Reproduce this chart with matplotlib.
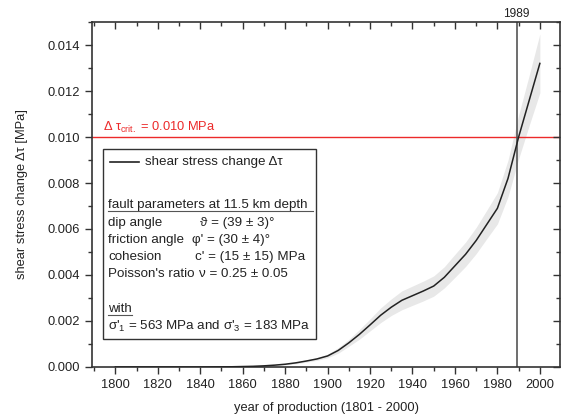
import matplotlib
matplotlib.use("Agg")
import matplotlib.pyplot as plt
from matplotlib.ticker import MultipleLocator, FormatStrFormatter
from matplotlib.patches import Rectangle
from matplotlib.lines import Line2D

plt.rcParams['font.family'] = ['Liberation Sans', 'DejaVu Sans']
plt.rcParams['mathtext.fontset'] = 'custom'
plt.rcParams['mathtext.rm'] = 'Liberation Sans'
plt.rcParams['mathtext.it'] = 'Liberation Sans'
plt.rcParams['mathtext.default'] = 'regular'

# Shear stress change from production history (MPa), every 5 years
years = [1800, 1805, 1810, 1815, 1820, 1825, 1830, 1835, 1840, 1845, 1850,
         1855, 1860, 1865, 1870, 1875, 1880, 1885, 1890, 1895, 1900,
         1905, 1910, 1915, 1920, 1925, 1930, 1935, 1940, 1945, 1950,
         1955, 1960, 1965, 1970, 1975, 1980, 1985, 1990, 1995, 2000]
tau = [0.0, 0.0, 0.0, 0.0, 0.0, 0.0, 0.0, 0.0, 0.0, 0.000003, 0.000006,
       0.00001, 0.00002, 0.00003, 0.00005, 0.00008, 0.00012, 0.00018, 0.00026, 0.00035, 0.00048,
       0.00072, 0.00105, 0.00142, 0.00183, 0.00225, 0.0026, 0.0029, 0.0031, 0.0033, 0.00352,
       0.0039, 0.0044, 0.0049, 0.0055, 0.0062, 0.0069, 0.0082, 0.0100, 0.0116, 0.0132]
tau_upper = [0.0, 0.0, 0.0, 0.0, 0.0, 0.0, 0.0, 0.0, 0.0, 0.000004, 0.000007,
             0.000012, 0.000024, 0.000036, 0.00006, 0.0001, 0.00015, 0.00022, 0.00031, 0.00041, 0.00056,
             0.00084, 0.0012, 0.00163, 0.00209, 0.00257, 0.00296, 0.00331, 0.00352, 0.00373, 0.00396,
             0.00436, 0.0049, 0.00543, 0.00607, 0.00682, 0.00758, 0.00899, 0.01095, 0.01269, 0.01448]
tau_lower = [0.0, 0.0, 0.0, 0.0, 0.0, 0.0, 0.0, 0.0, 0.0, 0.000002, 0.000005,
             0.000008, 0.000016, 0.000024, 0.00004, 0.00006, 0.00009, 0.00014, 0.00021, 0.00029, 0.0004,
             0.0006, 0.0009, 0.00121, 0.00157, 0.00193, 0.00224, 0.00249, 0.00268, 0.00287, 0.00308,
             0.00344, 0.0039, 0.00437, 0.00493, 0.00558, 0.00622, 0.00741, 0.00905, 0.01051, 0.01192]

tau_crit = 0.010
event_year = 1989

TXT = '#222222'
AXC = '#333333'
RED = '#ec2a2a'

fig = plt.figure(figsize=(5.63, 4.16), dpi=100)
ax = fig.add_axes([0.1634, 0.1178, 0.8313, 0.8293])

ax.fill_between(years, tau_lower, tau_upper, color='#e8e8e8', lw=0, zorder=1)
ax.plot(years, tau, color=TXT, lw=1.1, zorder=3)
ax.axhline(tau_crit, color=RED, lw=1.0, zorder=2)
ax.axvline(event_year, color='#555555', lw=1.2, zorder=2)

xlim = (1789, 2009.5)
ylim = (0, 0.015)
ax.set_xlim(*xlim)
ax.set_ylim(*ylim)
ax.xaxis.set_major_locator(MultipleLocator(20))
ax.xaxis.set_minor_locator(MultipleLocator(10))
ax.yaxis.set_major_locator(MultipleLocator(0.002))
ax.yaxis.set_minor_locator(MultipleLocator(0.001))
ax.yaxis.set_major_formatter(FormatStrFormatter('%.3f'))

for s in ax.spines.values():
    s.set_color(AXC)
    s.set_linewidth(1.2)

ax.tick_params(which='both', colors=AXC, labelsize=9.3, labelcolor=TXT, width=1.0, direction='out')
ax.tick_params(which='major', length=5)
ax.tick_params(which='minor', length=3)

# mirrored ticks pointing inward on the top and right edges
ax_top = ax.twiny()
ax_top.set_xlim(*xlim)
ax_top.xaxis.set_major_locator(MultipleLocator(20))
ax_top.xaxis.set_minor_locator(MultipleLocator(10))
ax_top.tick_params(axis='x', which='both', direction='in', labeltop=False, colors=AXC, width=1.0)
ax_top.tick_params(which='major', length=5)
ax_top.tick_params(which='minor', length=3)
ax_r = ax.twinx()
ax_r.set_ylim(*ylim)
ax_r.yaxis.set_major_locator(MultipleLocator(0.002))
ax_r.yaxis.set_minor_locator(MultipleLocator(0.001))
ax_r.tick_params(axis='y', which='both', direction='in', labelright=False, colors=AXC, width=1.0)
ax_r.tick_params(which='major', length=5)
ax_r.tick_params(which='minor', length=3)
for a in (ax_top, ax_r):
    for s in a.spines.values():
        s.set_visible(False)

ax.set_xlabel('year of production (1801 - 2000)', fontsize=9.3, color=TXT, labelpad=8)
ax.set_ylabel('shear stress change Δτ [MPa]', fontsize=9.3, color=TXT, labelpad=14)

ax.text(event_year, 0.01509, str(event_year), ha='center', va='bottom', fontsize=8.6, color=TXT)
ax.text(1794, 0.01008, r'Δ τ$_{crit.}$ = 0.010 MPa', ha='left', va='bottom',
        fontsize=9.3, color=RED)

# annotation box with the model parameters (pixel coordinates)
fig.patches.append(Rectangle((103, 77), 213, 190, transform=None, fill=True,
                             facecolor='white', edgecolor=AXC, lw=1.0, zorder=5))
ty = lambda py: 1 - py / 416
tx = lambda px: px / 563
fs = 9.6
fig.add_artist(Line2D([tx(110), tx(139)], [ty(162), ty(162)], color=TXT, lw=1.2, zorder=6))
fig.text(tx(145), ty(162), 'shear stress change Δτ', fontsize=fs, va='center', color=TXT, zorder=6)

fig.text(tx(108), ty(205), 'fault parameters at 11.5 km depth', fontsize=fs, va='center', color=TXT, zorder=6)
fig.add_artist(Line2D([tx(108), tx(313)], [ty(211), ty(211)], color='#555555', lw=0.8, zorder=6))
rows = [("dip angle", "ϑ = (39 ± 3)°", 200),
        ("friction angle", "φ' = (30 ± 4)°", 192),
        ("cohesion", "c' = (15 ± 15) MPa", 195),
        ("Poisson's ratio", "ν = 0.25 ± 0.05", 199)]
for i, (name, val, vx) in enumerate(rows):
    y = ty(223 + 17.0 * i)
    fig.text(tx(108), y, name, fontsize=fs, va='center', color=TXT, zorder=6)
    fig.text(tx(vx), y, val, fontsize=fs, va='center', color=TXT, zorder=6)

fig.text(tx(108), ty(309), 'with', fontsize=fs, va='center', color=TXT, zorder=6)
fig.add_artist(Line2D([tx(108), tx(132)], [ty(315), ty(315)], color='#555555', lw=0.8, zorder=6))
fig.text(tx(108), ty(326), "σ'$_1$ = 563 MPa and σ'$_3$ = 183 MPa", fontsize=fs, va='center', color=TXT, zorder=6)

fig.savefig('out.png', dpi=100)
